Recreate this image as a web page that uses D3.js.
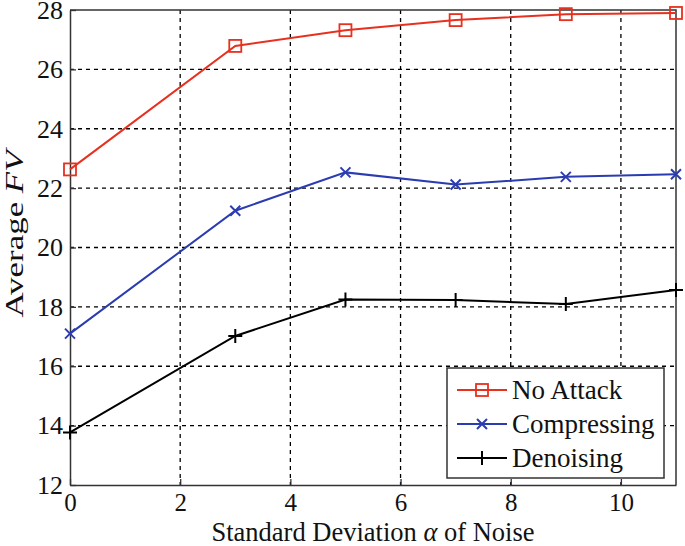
<!DOCTYPE html>
<html>
<head>
<meta charset="utf-8">
<script src="https://cdn.jsdelivr.net/npm/d3@7"></script>
<style>
  body { margin: 0; background: #fff; }
</style>
</head>
<body>
<div id="chart"></div>
<script>
;(function () {
  // noise standard deviation
  const xValues = [0, 3, 5, 7, 9, 11]
  const noAttack = [22.63, 26.79, 27.32, 27.66, 27.86, 27.9]
  const compressing = [17.1, 21.24, 22.53, 22.12, 22.38, 22.47]
  const denoising = [13.77, 17.02, 18.25, 18.23, 18.1, 18.57]
  const xTicks = [0, 2, 4, 6, 8, 10]
  const yTicks = [12, 14, 16, 18, 20, 22, 24, 26, 28]
  const seriesNames = ["No Attack", "Compressing", "Denoising"]

  const width = 685
  const height = 546
  const margin = { top: 10, right: 9, bottom: 61, left: 70 }
  const chartWidth = width - margin.left - margin.right
  const chartHeight = height - margin.top - margin.bottom
  const serif = "'Liberation Serif', 'Times New Roman', serif"

  const series = [
    { name: seriesNames[0], values: noAttack, color: "#e8301e", marker: "square" },
    { name: seriesNames[1], values: compressing, color: "#2b3cb0", marker: "x" },
    { name: seriesNames[2], values: denoising, color: "#000000", marker: "plus" }
  ]

  const svg = d3.select("#chart")
    .append("svg")
    .attr("width", width)
    .attr("height", height)

  const g = svg.append("g")
    .attr("transform", `translate(${margin.left},${margin.top})`)

  const x = d3.scaleLinear().domain([0, 11]).range([0, chartWidth])
  const y = d3.scaleLinear().domain([12, 28]).range([chartHeight, 0])

  // grid
  g.append("g")
    .selectAll("line")
    .data(xTicks.slice(1))
    .join("line")
    .attr("x1", d => x(d)).attr("x2", d => x(d))
    .attr("y1", 0).attr("y2", chartHeight)
    .attr("stroke", "#000")
    .attr("stroke-width", 1.3)
    .attr("stroke-dasharray", "4,4")

  g.append("g")
    .selectAll("line")
    .data(yTicks.slice(1, -1))
    .join("line")
    .attr("x1", 0).attr("x2", chartWidth)
    .attr("y1", d => y(d)).attr("y2", d => y(d))
    .attr("stroke", "#000")
    .attr("stroke-width", 1.3)
    .attr("stroke-dasharray", "4,4")

  // axes, ticks inward
  const xAxis = g.append("g")
    .attr("transform", `translate(0,${chartHeight})`)
    .call(d3.axisBottom(x).tickValues(xTicks).tickSize(-6).tickPadding(8).tickSizeOuter(0))
  const yAxis = g.append("g")
    .call(d3.axisLeft(y).tickValues(yTicks).tickSize(-6).tickPadding(7).tickSizeOuter(0))

  ;[xAxis, yAxis].forEach(a => {
    a.select(".domain").attr("stroke", "#333").attr("stroke-width", 1.5)
    a.selectAll(".tick line").attr("stroke", "#333").attr("stroke-width", 1.3)
    a.selectAll("text")
      .attr("fill", "#111")
      .style("font-family", serif)
      .style("font-size", "26px")
  })
  xAxis.selectAll("text").style("font-size", "25px")

  // top and right border
  g.append("path")
    .attr("d", `M0,0H${chartWidth}V${chartHeight}`)
    .attr("fill", "none")
    .attr("stroke", "#333")
    .attr("stroke-width", 1.5)

  // lines
  const line = d3.line()
    .x((d, i) => x(xValues[i]))
    .y(d => y(d))

  function drawMarker(sel, type, color) {
    if (type === "square") {
      sel.append("rect")
        .attr("x", -6).attr("y", -6).attr("width", 12).attr("height", 12)
        .attr("fill", "none").attr("stroke", color).attr("stroke-width", 1.8)
    } else if (type === "x") {
      sel.append("path")
        .attr("d", "M-5,-5L5,5M-5,5L5,-5")
        .attr("stroke", color).attr("stroke-width", 2)
    } else {
      sel.append("path")
        .attr("d", "M-7,0H7M0,-7V7")
        .attr("stroke", color).attr("stroke-width", 2)
    }
  }

  series.forEach(s => {
    g.append("path")
      .datum(s.values)
      .attr("d", line)
      .attr("fill", "none")
      .attr("stroke", s.color)
      .attr("stroke-width", 2)

    g.append("g")
      .selectAll("g")
      .data(s.values)
      .join("g")
      .attr("transform", (d, i) => `translate(${x(xValues[i])},${y(d)})`)
      .each(function () { drawMarker(d3.select(this), s.marker, s.color) })
  })

  // axis labels
  const xLabel = svg.append("text")
    .attr("x", margin.left + chartWidth / 2)
    .attr("y", 540.5)
    .attr("text-anchor", "middle")
    .style("font-family", serif)
    .style("font-size", "26.5px")
    .attr("fill", "#111")
  xLabel.append("tspan").text("Standard Deviation ")
  xLabel.append("tspan").style("font-style", "italic").text("α")
  xLabel.append("tspan").text(" of Noise")

  const yLabel = svg.append("text")
    .attr("transform", "translate(23,234) rotate(-90)")
    .attr("text-anchor", "middle")
    .attr("textLength", 167)
    .attr("lengthAdjust", "spacingAndGlyphs")
    .style("font-family", serif)
    .style("font-size", "26px")
    .attr("fill", "#111")
  yLabel.append("tspan").text("Average ")
  yLabel.append("tspan").style("font-style", "italic").text("FV")

  // legend
  const legend = svg.append("g").attr("transform", "translate(447,368)")
  legend.append("rect")
    .attr("width", 217).attr("height", 110)
    .attr("fill", "#fff").attr("stroke", "#333").attr("stroke-width", 1.5)

  series.forEach((s, i) => {
    const row = legend.append("g").attr("transform", `translate(0,${22 + i * 34})`)
    row.append("line")
      .attr("x1", 10).attr("x2", 60)
      .attr("stroke", s.color).attr("stroke-width", 2)
    drawMarker(row.append("g").attr("transform", "translate(35,0)"), s.marker, s.color)
    row.append("text")
      .attr("x", 65).attr("y", 9)
      .style("font-family", serif)
      .style("font-size", "27px")
      .attr("fill", "#111")
      .text(s.name)
  })
})()
</script>
</body>
</html>
